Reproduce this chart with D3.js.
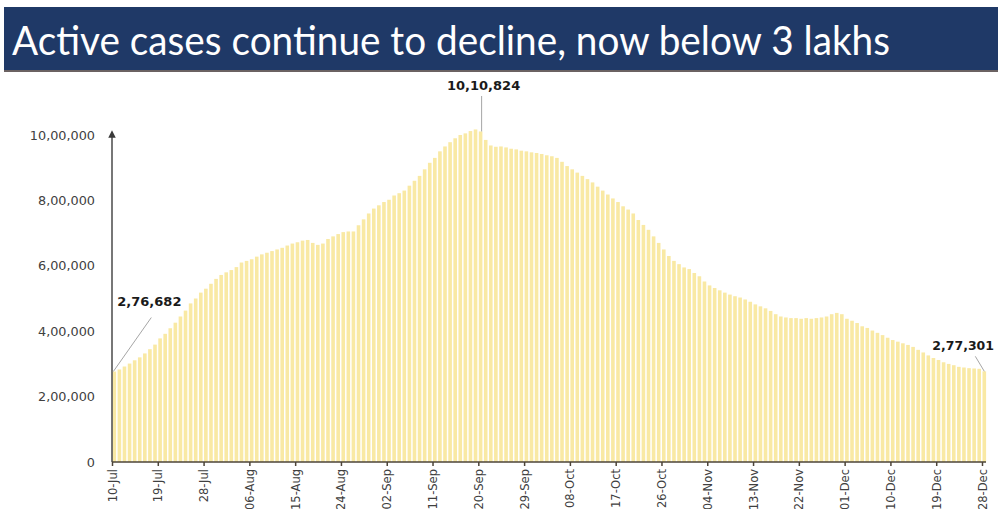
<!DOCTYPE html>
<html>
<head>
<meta charset="utf-8">
<script src="https://cdn.jsdelivr.net/npm/d3@7/dist/d3.min.js"></script>
<style>
	body { margin: 0; background: #fff; }
	svg { display: block; }
</style>
</head>
<body>
<script>
const title = 'Active cases continue to decline, now below 3 lakhs';

// one bar per day from 10-Jul-2020 to 28-Dec-2020
const firstDay = '2020-07-10';
const activeCases = [
	276682, 283000, 292000, 301000, 311000, 320000, 332000, 345000, 359000, 378000,
	392000, 409000, 426000, 445000, 463000, 485000, 500000, 518000, 530000, 545000,
	560000, 572000, 580000, 587000, 596000, 610000, 615000, 620000, 628000, 635000,
	640000, 645000, 650000, 655000, 662000, 668000, 672000, 677000, 679000, 670000,
	664000, 668000, 682000, 690000, 697000, 703000, 705000, 705000, 724000, 742000,
	760000, 775000, 785000, 795000, 802000, 815000, 822000, 830000, 845000, 860000,
	875000, 895000, 915000, 930000, 950000, 965000, 978000, 990000, 1000000, 1005000,
	1012000, 1017000, 1010824, 985000, 968000, 964000, 965000, 962000, 958000, 956000,
	952000, 950000, 947000, 945000, 942000, 938000, 935000, 930000, 918000, 905000,
	895000, 885000, 875000, 865000, 855000, 842000, 830000, 818000, 806000, 795000,
	782000, 772000, 760000, 740000, 725000, 710000, 690000, 670000, 650000, 630000,
	615000, 605000, 595000, 590000, 578000, 568000, 552000, 540000, 532000, 525000,
	518000, 512000, 507000, 503000, 497000, 490000, 482000, 476000, 470000, 462000,
	452000, 445000, 442000, 440000, 440000, 438000, 440000, 438000, 440000, 442000,
	445000, 452000, 456000, 452000, 438000, 432000, 425000, 415000, 410000, 402000,
	395000, 388000, 380000, 373000, 368000, 363000, 358000, 352000, 343000, 335000,
	326000, 318000, 312000, 305000, 300000, 296000, 291000, 289000, 287000, 286000,
	285000, 277301
];

const xTickLabels = ['10-Jul', '19-Jul', '28-Jul', '06-Aug', '15-Aug', '24-Aug', '02-Sep',
	'11-Sep', '20-Sep', '29-Sep', '08-Oct', '17-Oct', '26-Oct', '04-Nov', '13-Nov',
	'22-Nov', '01-Dec', '10-Dec', '19-Dec', '28-Dec'];
const yTicks = [0, 200000, 400000, 600000, 800000, 1000000];
const yTickLabels = ['0', '2,00,000', '4,00,000', '6,00,000', '8,00,000', '10,00,000'];

// data labels: first, peak, last
const calloutDays = [0, 72, 171];
const calloutText = ['2,76,682', '10,10,824', '2,77,301'];

const width = 998, height = 509;
const svg = d3.select('body').append('svg')
	.attr('width', width)
	.attr('height', height);

// title band
svg.append('rect')
	.attr('x', 4).attr('y', 69).attr('width', width - 4).attr('height', 3)
	.attr('fill', '#6b6262');
svg.append('rect')
	.attr('x', 4).attr('y', 7).attr('width', width - 4).attr('height', 63)
	.attr('fill', '#1f3967');
svg.append('text')
	.attr('x', 12).attr('y', 55)
	.attr('font-family', 'Lato, "Open Sans", sans-serif')
	.attr('font-size', 40)
	.attr('fill', '#fff')
	.attr('textLength', 878)
	.attr('lengthAdjust', 'spacingAndGlyphs')
	.text(title);

const parse = d3.timeParse('%Y-%m-%d');
const start = parse(firstDay);
const days = activeCases.map((v, i) => d3.timeDay.offset(start, i));

const x = d3.scaleTime()
	.domain([days[0], days[days.length - 1]])
	.range([112, 982]);
const y = d3.scaleLinear()
	.domain([0, 1000000])
	.range([462, 135]);

// bars
svg.append('g').attr('class', 'bars')
	.selectAll('rect')
	.data(activeCases)
	.join('rect')
	.attr('x', (d, i) => x(days[i]) + 0.5)
	.attr('y', d => y(d))
	.attr('width', 3.6)
	.attr('height', d => y(0) - y(d))
	.attr('fill', '#f9e9a4');

// y axis labels only, no ticks
const axisY = d3.axisLeft(y)
	.tickValues(yTicks)
	.tickFormat((d, i) => yTickLabels[i])
	.tickSize(0)
	.tickPadding(17);
const gy = svg.append('g')
	.attr('transform', 'translate(112,0)')
	.call(axisY);
gy.select('.domain').remove();
gy.selectAll('text')
	.attr('font-family', '"DejaVu Sans", sans-serif')
	.attr('font-size', 12.8)
	.attr('fill', '#404040');

// y axis line with arrow
svg.append('defs').append('marker')
	.attr('id', 'arrow')
	.attr('viewBox', '0 0 10 10')
	.attr('refX', 5).attr('refY', 5)
	.attr('markerWidth', 5).attr('markerHeight', 5)
	.attr('orient', 'auto')
	.append('path')
	.attr('d', 'M0,0L10,5L0,10Z')
	.attr('fill', '#3a3a3a');
svg.append('line')
	.attr('x1', 112).attr('x2', 112)
	.attr('y1', y(0)).attr('y2', 134)
	.attr('stroke', '#4a4a4a')
	.attr('stroke-width', 1.5)
	.attr('marker-end', 'url(#arrow)');

// x axis
const tickDays = xTickLabels.map((t, k) => days[k * 9]);
const axisX = d3.axisBottom(x)
	.tickValues(tickDays)
	.tickFormat((d, i) => xTickLabels[i])
	.tickSizeOuter(0)
	.tickSize(4);
const gx = svg.append('g')
	.attr('transform', `translate(0,${y(0)})`)
	.call(axisX);
gx.select('.domain')
	.attr('d', 'M112,0H986')
	.attr('stroke', '#4d4438')
	.attr('stroke-width', 1.5);
gx.selectAll('.tick line')
	.attr('stroke', '#4d4438')
	.attr('stroke-width', 1.5);
gx.selectAll('text')
	.attr('font-family', '"DejaVu Sans", sans-serif')
	.attr('font-size', 11.5)
	.attr('fill', '#404040')
	.attr('text-anchor', 'end')
	.attr('dy', null)
	.attr('transform', 'translate(4,7) rotate(-90)')
	.attr('x', 0).attr('y', 0);

// callouts
const labelFont = '"DejaVu Sans", sans-serif';
const c = calloutDays.map(i => ({ cx: x(days[i]) + 2.3, cy: y(activeCases[i]) }));

const leaders = [
	[[c[0].cx - 1, c[0].cy], [c[0].cx + 37, c[0].cy - 54]],
	[[c[1].cx + 1, c[1].cy], [c[1].cx + 1, 96]],
	[[c[2].cx, c[2].cy], [c[2].cx - 9, c[2].cy - 15]]
];
svg.append('g').selectAll('line')
	.data(leaders)
	.join('line')
	.attr('x1', d => d[0][0]).attr('y1', d => d[0][1])
	.attr('x2', d => d[1][0]).attr('y2', d => d[1][1])
	.attr('stroke', '#a6a6a6')
	.attr('stroke-width', 1);

const labelPos = [
	{ x: c[0].cx + 3, y: c[0].cy - 66, anchor: 'start' },
	{ x: c[1].cx + 3, y: 90, anchor: 'middle' },
	{ x: c[2].cx - 52, y: c[2].cy - 21, anchor: 'start' }
];
svg.append('g').selectAll('text')
	.data(calloutText)
	.join('text')
	.attr('x', (d, i) => labelPos[i].x)
	.attr('y', (d, i) => labelPos[i].y)
	.attr('text-anchor', (d, i) => labelPos[i].anchor)
	.attr('font-family', labelFont)
	.attr('font-weight', 'bold')
	.attr('font-size', (d, i) => i === 2 ? 12.5 : 13)
	.attr('fill', '#1a1a1a')
	.text(d => d);
</script>
</body>
</html>
